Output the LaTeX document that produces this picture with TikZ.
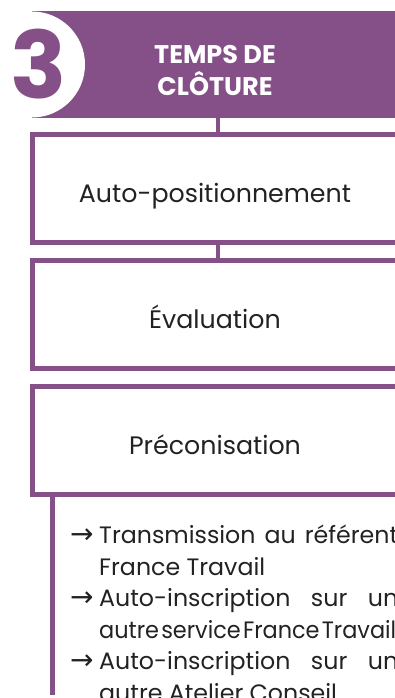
\documentclass[tikz,border=0pt]{standalone}
\usepackage{fontspec}
\usepackage{graphicx}
\setmainfont{Poppins}
\newfontfamily\arrowfont{DejaVu Sans}
\usetikzlibrary{positioning}

\definecolor{closurepurple}{RGB}{133,79,136}
\definecolor{closuretext}{RGB}{34,34,34}

\tikzset{
	stagebox/.style={
		draw=closurepurple,
		line width=5pt,
		minimum width=365pt,
		minimum height=108pt,
		outer sep=0pt,
		text=closuretext,
		text height=30pt,
		text depth=3pt,
		font=\fontsize{25.3}{30}\selectfont
	},
	link/.style={
		draw=closurepurple,
		line width=4pt
	}
}

\newcommand{\arrowitem}[1]{%
	\hangindent=29pt\hangafter=1\noindent
	\makebox[29pt][l]{\arrowfont\fontsize{28}{28}\selectfont→}#1\par}

\begin{document}
\begin{tikzpicture}[x=1pt,y=-1pt]
\useasboundingbox (0,0) rectangle (395,698);
\clip (0,0) rectangle (395,698);

% Header band
\node [fill=closurepurple,
	minimum width=366pt,
	minimum height=107pt,
	inner sep=0pt,
	outer sep=0pt,
	anchor=north west
]  (header) at (32,11) {};

% Badge with the number
\node [circle,
	fill=white,
	minimum size=106pt,
	inner sep=0pt
]  (badge) at (32,64.5) {};
\node [text=closurepurple,
	font=\fontsize{93}{93}\bfseries,
	inner sep=0pt
]  (number) at (39,64.5) {3};

% Title
\node [text=white,
	align=center,
	font=\fontsize{25.5}{32}\bfseries,
	inner sep=0pt
]  (title) at (215,70.8) {TEMPS DE\\CLÔTURE};

% Stages
\node [stagebox, below = 16.5pt of header] (autopos) {Auto-positionnement};
\node [stagebox, below = 18pt of autopos] (evaluation) {Évaluation};
\node [stagebox, below = 18pt of evaluation] (preco) {Préconisation};

% Connectors
\draw[link] ([xshift=3pt]header.south) -- ([xshift=3pt]autopos.north);
\draw[link] ([xshift=3pt]autopos.south) -- ([xshift=3pt]evaluation.north);
\coordinate (tail) at (52.5,695);
\draw[link, line width=5pt] (preco.south -| tail) -- (tail);

% Outcomes
\node [anchor=north west,
	inner sep=0pt,
	text width=328pt,
	align=justify,
	text=closuretext,
	font=\fontsize{23.7}{31.5}\selectfont
]  (outcomes) at (70,525) {%
\hyphenpenalty=10000\exhyphenpenalty=10000\hbadness=10000\hfuzz=100pt
\arrowitem{Transmission au référent\linebreak France Travail}
\arrowitem{Auto-inscription sur un\linebreak
	\scalebox{0.945}[1]{\spaceskip=0.1em\relax autre service France Travail}}
\arrowitem{Auto-inscription sur un\linebreak autre Atelier Conseil}
};

\end{tikzpicture}
\end{document}
